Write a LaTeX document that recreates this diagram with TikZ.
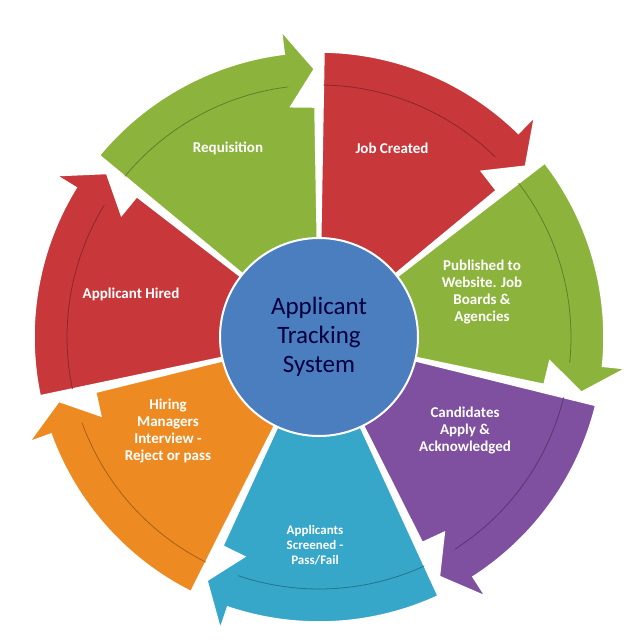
\documentclass[tikz,border=0pt]{standalone}
\usepackage{fontspec}
\setmainfont{Carlito}
\usetikzlibrary{calc}
\definecolor{cg}{HTML}{8CB43C}
\definecolor{cr}{HTML}{C8383A}
\definecolor{cp}{HTML}{7F4FA0}
\definecolor{cc}{HTML}{36A6C9}
\definecolor{co}{HTML}{EE8A22}
\definecolor{cb}{HTML}{4A7EBE}
\begin{document}
\begin{tikzpicture}[x=1pt,y=1pt,
  lab/.style={text=white,font=\bfseries\fontsize{15}{17}\selectfont,align=center},
  sec/.style={draw=white,line width=1.5pt}]
\useasboundingbox (0,-640) rectangle (634,0);
\coordinate (c) at (319,-337);
\def\sector#1#2#3{%
  \pgfmathsetmacro\s{#1}\pgfmathsetmacro\e{#2}%
  \pgfmathsetmacro\a{\e+7}\pgfmathsetmacro\b{\e+1}\pgfmathsetmacro\sa{\s-1}%
  \filldraw[fill=#3,sec] (c) -- ++(\sa:285) arc[start angle=\sa,end angle=\a,radius=285]
     -- ($(c)+(\a:308)$) -- ($(c)+(\b:268)$) -- ($(c)+(\a:232)$) -- ($(c)+(\b:230)$) -- cycle;
  \draw[#3!70!black,line width=0.8pt] ($(c)+(\sa:252)$) arc[start angle=\sa,end angle=\a,radius=252];
}
\sector{141.4}{90}{cg}
\sector{90}{38.6}{cr}
\sector{38.6}{-12.9}{cg}
\sector{-12.9}{-64.3}{cp}
\sector{-64.3}{-115.7}{cc}
\sector{-115.7}{-167.1}{co}
\sector{-167.1}{-218.6}{cr}
\node[circle,minimum size=198pt,fill=cb,draw=white,line width=2pt,
  text=blue!25!black,font=\fontsize{25}{29}\selectfont,align=center] (ctr) at (c) {Applicant\\Tracking\\System};
\node[lab] (n1) at (228,-148) {Requisition};
\node[lab] (n2) at (392,-148) {Job Created};
\node[lab] (n3) at (482,-292) {Published to\\Website. Job\\Boards \&\\Agencies};
\node[lab] (n4) at (465,-431) {Candidates\\Apply \&\\Acknowledged};
\node[lab,font=\bfseries\fontsize{13}{15}\selectfont] (n5) at (315,-545) {Applicants\\Screened -\\Pass/Fail};
\node[lab] (n6) at (168,-431) {Hiring\\Managers\\Interview -\\Reject or pass};
\node[lab] (n7) at (131,-294) {Applicant Hired};
\end{tikzpicture}
\end{document}
